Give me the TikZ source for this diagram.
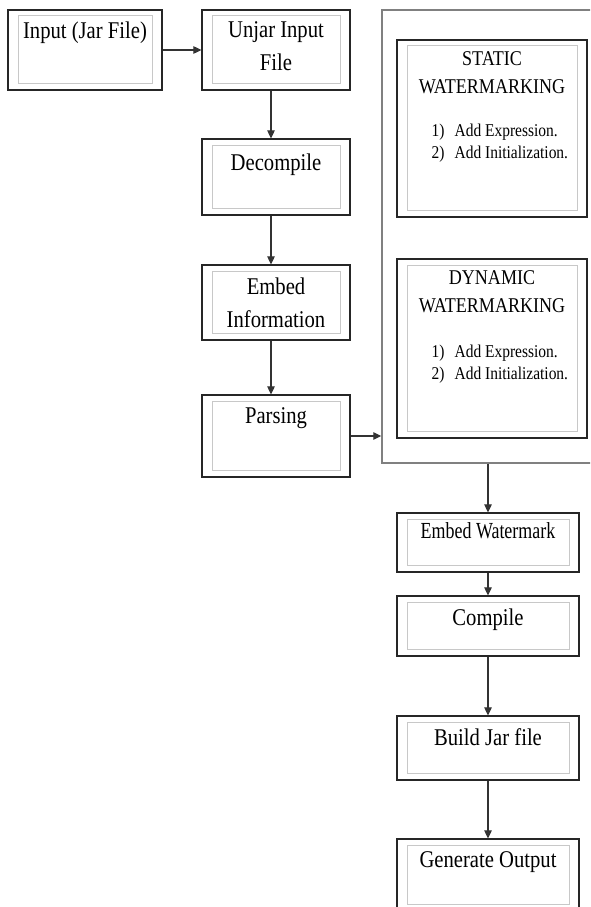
\documentclass[tikz,border=0pt]{standalone}
\usepackage{fontspec}
\setmainfont{Liberation Serif}[FakeStretch=0.86]
\newfontfamily\tightfont{Liberation Serif}[FakeStretch=0.78]
\usepackage{tikz}
\usetikzlibrary{arrows.meta,positioning,calc}
\definecolor{wmframe}{RGB}{128,128,128}
\definecolor{wminner}{RGB}{200,200,200}
\tikzset{
  stepbox/.style={draw=black!85, line width=1.2pt, fill=white, inner sep=0pt,
    path picture={\draw[wminner, line width=1pt]
      ([shift={(10pt,-6pt)}]path picture bounding box.north west) rectangle
      ([shift={(-10pt,7pt)}]path picture bounding box.south east);}},
  steptxt/.style={inner sep=0pt, align=center, font=\fontsize{24}{33}\selectfont},
  wmtxt/.style={inner sep=0pt, align=center, font=\fontsize{21}{28}\selectfont},
  listtxt/.style={inner sep=0pt, align=left, anchor=north west, font=\fontsize{18}{22}\selectfont},
  flow/.style={-{Triangle[length=8pt,width=7.5pt]}, line width=1.1pt, black!80}
}
\begin{document}
\begin{tikzpicture}[x=1pt,y=-1pt]
  \useasboundingbox (0,0) rectangle (590,907);
  \clip (0,0) rectangle (590,907);

  %% Left column
  \node[stepbox, minimum width=154, minimum height=80] (input)   at (85,50)    {};
  \node[stepbox, minimum width=148, minimum height=80] (unjar)   at (276,50)   {};
  \node[stepbox, minimum width=148, minimum height=76] (decomp)  at (276,177)  {};
  \node[stepbox, minimum width=148, minimum height=75] (embed)   at (276,302.5) {};
  \node[stepbox, minimum width=148, minimum height=82] (parsing) at (276,436)  {};

  \node[steptxt, below=12pt of input.north]   (inputtxt)   {Input (Jar File)};
  \node[steptxt, below=12pt of unjar.north]   (unjartxt)   {Unjar Input\\File};
  \node[steptxt, below=15pt of decomp.north]  (decomptxt)  {Decompile};
  \node[steptxt, below=13pt of embed.north]   (embedtxt)   {Embed\\Information};
  \node[steptxt, below=13pt of parsing.north] (parsingtxt) {Parsing};

  %% Watermarking frame
  \node[draw=wmframe, line width=1.5pt, minimum width=218, minimum height=453] (wm) at (491,236.5) {};

  \node[stepbox, minimum width=190, minimum height=177] (static)  at (492,128.5) {};
  \node[stepbox, minimum width=190, minimum height=179] (dynamic) at (492,348.5) {};

  \node[wmtxt, below=12pt of static.north]  (statictxt)  {STATIC\\WATERMARKING};
  \node[wmtxt, below=12pt of dynamic.north] (dynamictxt) {DYNAMIC\\WATERMARKING};
  \node[listtxt] (staticlist)  at ([shift={(35pt,-84pt)}]static.north west)
    {\makebox[23pt][l]{1)}Add Expression.\\\makebox[23pt][l]{2)}Add Initialization.};
  \node[listtxt] (dynamiclist) at ([shift={(35pt,-86pt)}]dynamic.north west)
    {\makebox[23pt][l]{1)}Add Expression.\\\makebox[23pt][l]{2)}Add Initialization.};

  %% Right column
  \node[stepbox, minimum width=182, minimum height=59] (embedwm) at (488,542.5) {};
  \node[stepbox, minimum width=182, minimum height=60] (compile) at (488,626)   {};
  \node[stepbox, minimum width=182, minimum height=64] (build)   at (488,748)   {};
  \node[stepbox, minimum width=182, minimum height=72] (output)  at (488,875)   {};

  \node[steptxt, below=10pt of embedwm.north, font=\tightfont\fontsize{23}{30}\selectfont] (embedwmtxt) {Embed Watermark};
  \node[steptxt, below=13pt of compile.north] (compiletxt) {Compile};
  \node[steptxt, below=13pt of build.north]   (buildtxt)   {Build Jar file};
  \node[steptxt, below=13pt of output.north]  (outputtxt)  {Generate Output};

  %% Connectors
  \draw[flow] (input) -- (unjar);
  \draw[flow] ([xshift=-5pt]unjar.south)  -- ([xshift=-5pt]decomp.north);
  \draw[flow] ([xshift=-5pt]decomp.south) -- ([xshift=-5pt]embed.north);
  \draw[flow] ([xshift=-5pt]embed.south)  -- ([xshift=-5pt]parsing.north);
  \draw[flow] (parsing.east) -- (parsing.east -| wm.west);
  \draw[flow] (embedwm.north |- wm.south) -- (embedwm.north);
  \draw[flow] (embedwm) -- (compile);
  \draw[flow] (compile) -- (build);
  \draw[flow] (build) -- (output);
\end{tikzpicture}
\end{document}
